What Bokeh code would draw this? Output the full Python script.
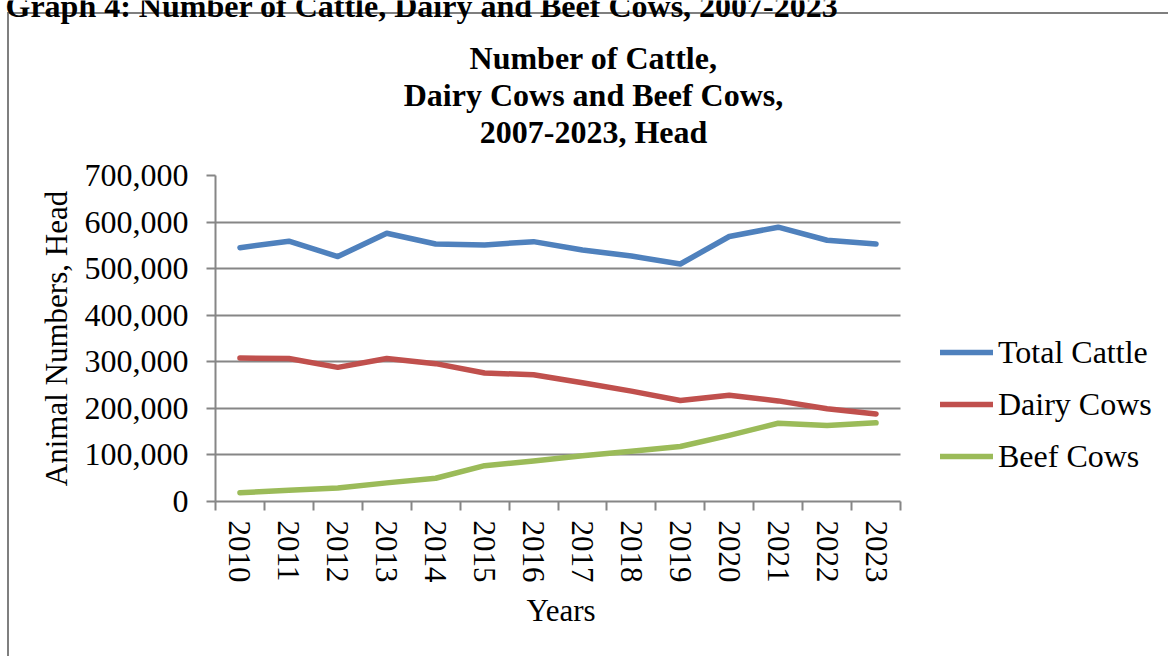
import numpy as np
from bokeh.plotting import figure
from bokeh.models import (FixedTicker, NumeralTickFormatter, Legend, LegendItem,
                          Label, Range1d)
from bokeh.embed import file_html
from bokeh.resources import INLINE

years = ["2010", "2011", "2012", "2013", "2014", "2015", "2016",
         "2017", "2018", "2019", "2020", "2021", "2022", "2023"]
total_cattle = [545000, 559000, 526000, 576000, 553000, 551000, 558000,
                540000, 527000, 510000, 569000, 589000, 561000, 553000]
dairy_cows = [308000, 307000, 288000, 307000, 296000, 276000, 272000,
              255000, 237000, 217000, 228000, 216000, 199000, 188000]
beef_cows = [19000, 24000, 29000, 40000, 50000, 77000, 87000,
             98000, 108000, 118000, 142000, 168000, 163000, 169000]
series_names = ["Total Cattle", "Dairy Cows", "Beef Cows"]
y_ticks = [0, 100000, 200000, 300000, 400000, 500000, 600000, 700000]

header = "Graph 4: Number of Cattle, Dairy and Beef Cows, 2007-2023"
title_lines = ["Number of Cattle,", "Dairy Cows and Beef Cows,", "2007-2023, Head"]
x_title = "Years"
y_title = "Animal Numbers, Head"

FONT = "Liberation Serif"
GRAY = "#868686"
BOX = "#7F7F7F"
colors = ["#4F81BD", "#C0504D", "#9BBB59"]

W = 1168
HEAD_H = 150          # header strip (page caption + chart title)
FOOT_H = 70           # footer strip (x-axis title)
MAIN_H = 656 - HEAD_H - FOOT_H
L, T, B = 215, 25, 85
PLOT_W = 685          # width of the plotted (axis) area
GRAD = f"linear-gradient({BOX}, {BOX})"


def strip(height):
    f = figure(width=W, height=height, output_backend="svg", toolbar_location=None,
               min_border=0, x_range=Range1d(0, W), y_range=Range1d(height, 0),
               x_axis_type=None, y_axis_type=None)
    f.grid.visible = False
    f.outline_line_color = None
    f.border_fill_color = None
    f.background_fill_color = None
    return f


# ---------- header strip: cut-off page caption + chart title ----------
hf = strip(HEAD_H)
hf.styles = {"background": f"{GRAD} 7px 12px / 2px 100% no-repeat, "
                           f"{GRAD} 7px 12px / 100% 2px no-repeat, white"}
hf.add_layout(Label(x=5, y=5, text=header, text_font=FONT, text_font_size="32px",
                    text_font_style="bold", text_baseline="alphabetic",
                    text_align="left", text_color="black"))
for i, t in enumerate(title_lines):
    hf.add_layout(Label(x=593, y=57 + 37 * i, text=t, text_font=FONT, text_font_size="32px",
                        text_font_style="bold", text_baseline="alphabetic",
                        text_align="center", text_color="black"))

# ---------- main chart ----------
n = len(years)
frame_w = W - L
x_end = n * frame_w / PLOT_W      # frame extends right to hold the legend

p = figure(width=W, height=MAIN_H, output_backend="svg", toolbar_location=None,
           min_border_left=L, min_border_right=0, min_border_top=T, min_border_bottom=B,
           x_range=Range1d(0, x_end), y_range=Range1d(0, 700000))
p.outline_line_color = None
p.background_fill_color = None
p.border_fill_color = None
p.styles = {"background": f"{GRAD} 7px 0px / 2px 100% no-repeat, white"}

x = np.arange(n) + 0.5

# horizontal grid lines limited to the plotted area
grid = p.ygrid[0]
if "cross_bounds" in grid.properties():
    grid.cross_bounds = (0, n)
    grid.grid_line_color = GRAY
    grid.grid_line_width = 2
else:
    grid.visible = False
    p.segment(x0=0, x1=n, y0=y_ticks, y1=y_ticks, line_color=GRAY, line_width=2)

items = []
for name, vals, c in zip(series_names, [total_cattle, dairy_cows, beef_cows], colors):
    r = p.line(x, vals, line_color=c, line_width=5.5, line_join="round", line_cap="round")
    items.append(LegendItem(label=name, renderers=[r]))

# x axis
p.xaxis.bounds = (0, n)
p.xaxis.ticker = FixedTicker(ticks=list(x), minor_ticks=list(range(n + 1)))
p.xaxis.major_label_overrides = {float(v): y for v, y in zip(x, years)}
p.xaxis.major_label_orientation = "vertical"
p.xaxis.major_tick_out = 0
p.xaxis.major_tick_in = 0
p.xaxis.minor_tick_out = 9
p.xaxis.minor_tick_in = 0
p.xaxis.minor_tick_line_color = GRAY
p.xaxis.minor_tick_line_width = 2
p.xaxis.axis_line_color = GRAY
p.xaxis.axis_line_width = 2
p.xaxis.major_label_standoff = 10
p.xgrid.visible = False

# y axis
p.yaxis.ticker = FixedTicker(ticks=y_ticks)
p.yaxis.formatter = NumeralTickFormatter(format="0,0")
p.yaxis.major_tick_out = 9
p.yaxis.major_tick_in = 0
p.yaxis.minor_tick_line_color = None
p.yaxis.major_tick_line_color = GRAY
p.yaxis.major_tick_line_width = 2
p.yaxis.axis_line_color = GRAY
p.yaxis.axis_line_width = 2
p.yaxis.major_label_standoff = 18
p.yaxis.axis_label = y_title
p.yaxis.axis_label_standoff = 8

for ax, lab_size in ((p.xaxis[0], "31px"), (p.yaxis[0], "32px")):
    ax.major_label_text_font = FONT
    ax.major_label_text_font_size = lab_size
    ax.major_label_text_color = "black"
    ax.axis_label_text_font = FONT
    ax.axis_label_text_font_size = "31px"
    ax.axis_label_text_font_style = "normal"
    ax.axis_label_text_color = "black"

# legend inside the (extended) frame, to the right of the plotted area
legend = Legend(items=items, location=(725, 25), orientation="vertical")
legend.label_text_font = FONT
legend.label_text_font_size = "32px"
legend.label_text_color = "black"
legend.glyph_width = 53
legend.glyph_height = 40
legend.label_height = 40
legend.label_standoff = 5
legend.spacing = 12
legend.padding = 0
legend.margin = 0
legend.border_line_color = None
legend.background_fill_alpha = 0
p.add_layout(legend)

# ---------- footer strip: x-axis title centred under the plotted area ----------
ff = strip(FOOT_H)
ff.styles = {"background": f"{GRAD} 7px 0px / 2px 100% no-repeat, white"}
ff.add_layout(Label(x=L + PLOT_W * 0.5 + 3, y=24, text=x_title, text_font=FONT,
                    text_font_size="31px", text_baseline="alphabetic",
                    text_align="center", text_color="black"))

open("out.html", "w").write(file_html([hf, p, ff], INLINE))
